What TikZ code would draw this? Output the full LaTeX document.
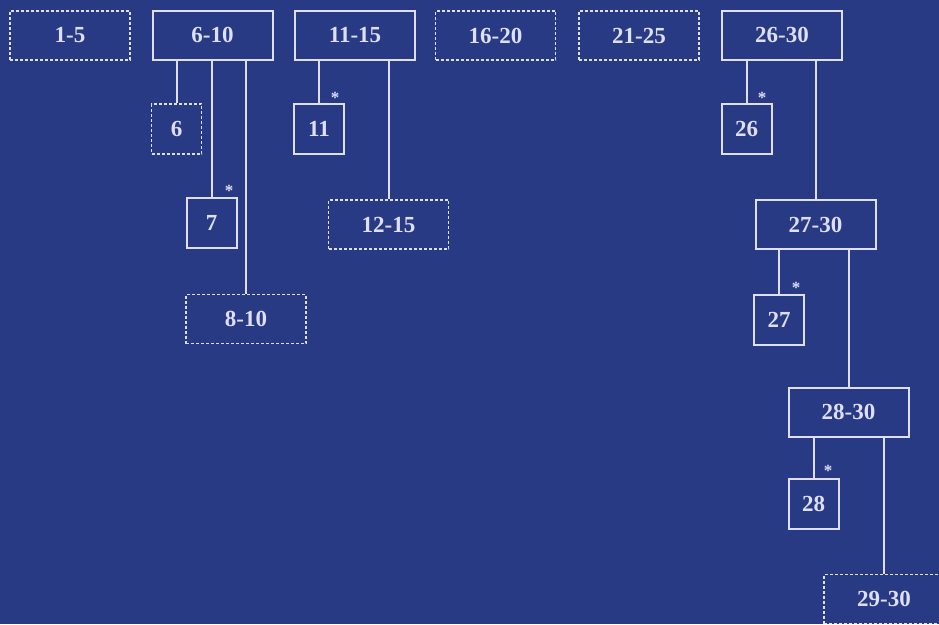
\documentclass[tikz,border=0pt]{standalone}
\usepackage{fontspec}
\setmainfont{Liberation Serif}
\definecolor{bgblue}{RGB}{40,58,132}
\definecolor{linecol}{RGB}{222,222,245}
\tikzset{
  box/.style={draw=linecol, line width=2pt, rectangle, inner sep=0pt, text=linecol,
     font=\fontsize{23}{26}\selectfont\bfseries},
  wide/.style={box, minimum width=120pt, minimum height=49pt},
  sq/.style={box, minimum width=50pt, minimum height=50pt},
  dash box/.style={line width=1.8pt, dash pattern=on 3pt off 2pt},
  conn/.style={draw=linecol, line width=2pt},
  star/.style={text=linecol, font=\fontsize{17}{17}\selectfont\bfseries, inner sep=0pt}
}
\begin{document}
\begin{tikzpicture}[x=1pt,y=-1pt]
\fill[bgblue] (0,0) rectangle (939,624);
\useasboundingbox (0,0) rectangle (939,624);
\clip (0,0) rectangle (939,624);
% top row
\node[wide,dash box] (a) at (70,35.5) {1-5};
\node[wide] (b) at (212.5,35) {6-10};
\node[wide] (c) at (355,35) {11-15};
\node[wide,dash box] (d) at (495.5,35.5) {16-20};
\node[wide,dash box] (e) at (639,35.5) {21-25};
\node[wide] (f) at (782,35) {26-30};
% children of 6-10
\node[sq,dash box] (b6) at (176.5,129) {6};
\node[sq] (b7) at (211.5,223) {7};
\node[wide,dash box] (b810) at (246,319) {8-10};
% children of 11-15
\node[sq] (c11) at (319,129) {11};
\node[wide,dash box] (c1215) at (388.5,224.5) {12-15};
% 26-30 chain
\node[sq] (f26) at (746.5,129) {26};
\node[wide] (f2730) at (815.5,224.5) {27-30};
\node[sq] (f27) at (779,320) {27};
\node[wide] (f2830) at (848.5,412) {28-30};
\node[sq] (f28) at (813.5,504) {28};
\node[wide,dash box] (f2930) at (884,599) {29-30};
% connectors
\draw[conn] (b6.north) -- (b6.north |- b.south);
\draw[conn] (b7.north) -- (b7.north |- b.south);
\draw[conn] (b810.north) -- (b810.north |- b.south);
\draw[conn] (c11.north) -- (c11.north |- c.south);
\draw[conn] (c1215.north) -- (c1215.north |- c.south);
\draw[conn] (f26.north) -- (f26.north |- f.south);
\draw[conn] (f2730.north) -- (f2730.north |- f.south);
\draw[conn] (f27.north) -- (f27.north |- f2730.south);
\draw[conn] (f2830.north) -- (f2830.north |- f2730.south);
\draw[conn] (f28.north) -- (f28.north |- f2830.south);
\draw[conn] (f2930.north) -- (f2930.north |- f2830.south);
% asterisks
\node[star] (s7) at (229,191) {*};
\node[star] (s11) at (335,98) {*};
\node[star] (s26) at (762,98) {*};
\node[star] (s27) at (796,288) {*};
\node[star] (s28) at (828,471) {*};
\end{tikzpicture}
\end{document}
